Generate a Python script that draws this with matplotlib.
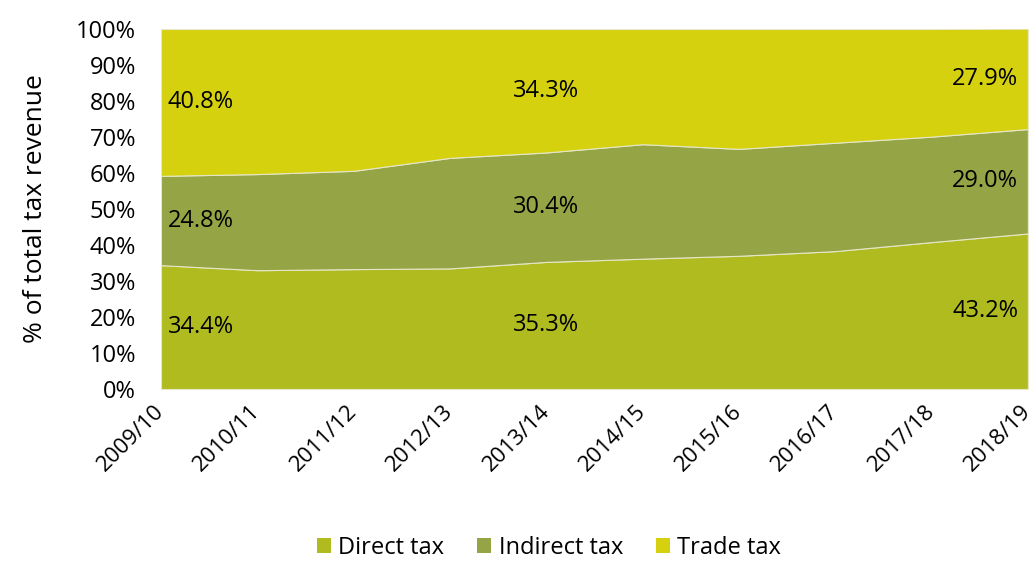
import numpy as np
import matplotlib
matplotlib.use("Agg")
import matplotlib.pyplot as plt
from matplotlib.patches import Patch

plt.rcParams['font.family'] = ['Open Sans', 'DejaVu Sans']

# ---- data (share of total tax revenue, %) ----
years = ['2009/10', '2010/11', '2011/12', '2012/13', '2013/14',
         '2014/15', '2015/16', '2016/17', '2017/18', '2018/19']
direct = [34.4, 33.0, 33.3, 33.5, 35.3, 36.2, 37.0, 38.3, 40.8, 43.2]
indirect = [24.8, 26.7, 27.3, 30.7, 30.4, 31.8, 29.7, 30.1, 29.3, 29.0]
trade = [40.8, 40.3, 39.4, 35.8, 34.3, 32.0, 33.3, 31.6, 29.9, 27.9]

# labelled points: (index, ha)
label_points = [(0, 'left'), (4, 'center'), (9, 'right')]

colors = ['#AFBB1F', '#95A444', '#D5D10F']
names = ['Direct tax', 'Indirect tax', 'Trade tax']

fig = plt.figure(figsize=(10.32, 5.61), dpi=100)
ax = fig.add_axes([0.156, 0.3066, 0.84, 0.6417])

x = np.arange(len(years))
ax.stackplot(x, direct, indirect, trade, colors=colors,
             edgecolor='#E6E6C8', linewidth=0.8)

ax.set_xlim(0, len(years) - 1)
ax.set_ylim(0, 100)
ax.set_yticks(np.arange(0, 101, 10))
ax.set_yticklabels([f'{v}%' for v in range(0, 101, 10)], fontsize=17)
ax.set_xticks(x)
ax.set_xticklabels(years, fontsize=16, rotation=45, ha='right',
                   rotation_mode='anchor', va='center')
ax.tick_params(axis='both', length=0)
ax.tick_params(axis='x', pad=14)
ax.tick_params(axis='y', pad=18)
for s in ax.spines.values():
    s.set_visible(False)

ax.set_ylabel('% of total tax revenue', fontsize=19, labelpad=20)

# value labels at segment centres
for i, ha in label_points:
    d, ind, t = direct[i], indirect[i], trade[i]
    xo = {'left': 0.07, 'center': 0.0, 'right': -0.1}[ha]
    for val, mid in [(d, d / 2), (ind, d + ind / 2), (t, d + ind + t / 2)]:
        ax.text(i + xo, mid, f'{val:.1f}%', ha=ha, va='center', fontsize=17)

handles = [Patch(facecolor=c, edgecolor='none') for c in colors]
fig.legend(handles, names, loc='lower center', bbox_to_anchor=(0.532, -0.036),
           ncol=3, frameon=False, fontsize=17, handlelength=0.6,
           handleheight=0.6, handletextpad=0.3, columnspacing=1.4)

fig.savefig('out.png', dpi=100)
